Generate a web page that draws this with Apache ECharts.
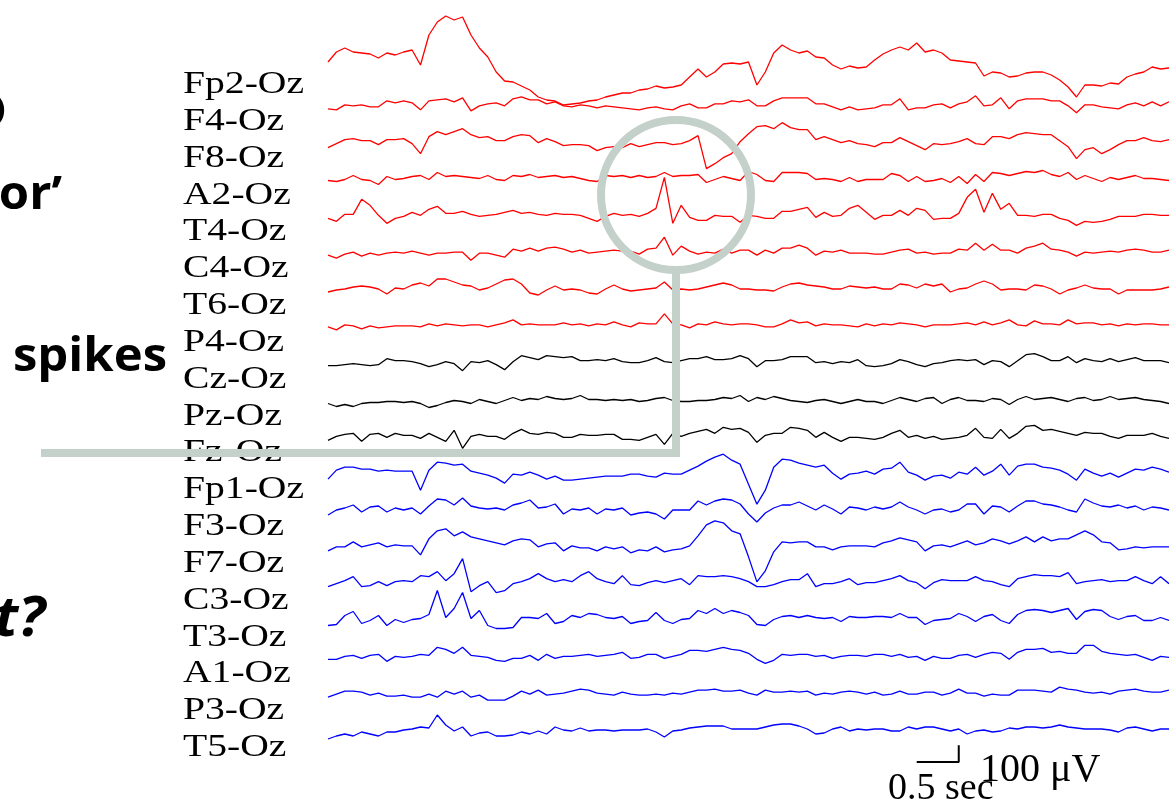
<!DOCTYPE html>
<html><head><meta charset="utf-8">
<script src="https://cdn.jsdelivr.net/npm/echarts@6/dist/echarts.min.js"></script>
<style>html,body{margin:0;padding:0;background:#fff}#c{width:1169px;height:805px}</style>
</head><body><div id="c"></div>
<script>
// ---- channel montage ----
const channels = ['Fp2-Oz','F4-Oz','F8-Oz','A2-Oz','T4-Oz','C4-Oz','T6-Oz','P4-Oz','Cz-Oz','Pz-Oz','Fz-Oz','Fp1-Oz','F3-Oz','F7-Oz','C3-Oz','T3-Oz','A1-Oz','P3-Oz','T5-Oz'];
const channelColors = ['#ff0000','#ff0000','#ff0000','#ff0000','#ff0000','#ff0000','#ff0000','#ff0000','#000000','#000000','#000000','#0000ff','#0000ff','#0000ff','#0000ff','#0000ff','#0000ff','#0000ff','#0000ff'];
// ---- samples every 0.1 s over 10 s, amplitude in µV ----
const fp2 = [48,108,132,108,102,96,72,102,90,108,120,30,210,288,324,300,318,210,132,78,-12,-66,-72,-96,-120,-162,-180,-186,-210,-204,-198,-186,-180,-162,-150,-138,-138,-120,-114,-96,-108,-102,-90,-42,6,-42,-12,36,42,36,48,-90,-12,102,150,120,102,114,78,72,30,6,24,12,18,60,96,120,138,120,162,108,120,102,60,54,48,42,-36,-12,-18,-42,-36,-18,-12,-12,-30,-60,-102,-162,-90,-90,-96,-78,-84,-42,-24,-12,18,6,12];
const f4 = [-12,-18,12,6,12,0,0,36,24,36,24,-18,36,42,48,30,54,-24,6,18,24,6,48,60,42,42,18,30,6,0,12,6,-6,6,0,-6,-12,-18,-6,0,-12,-18,6,18,-6,-6,18,18,36,30,42,6,6,36,54,54,54,54,18,18,0,-18,0,-18,-12,-6,12,12,48,-18,-6,-6,12,18,-6,18,30,66,6,12,54,-12,36,48,48,48,36,36,6,-36,12,12,0,-6,-12,12,24,6,30,6,30];
const f8 = [-24,0,24,30,18,18,-6,24,24,30,0,-60,42,72,54,72,90,54,36,42,18,18,42,54,48,6,30,12,-12,-6,-6,-12,-42,-24,-18,-24,0,-18,-6,6,6,-6,0,18,48,-150,-120,-84,-60,12,60,102,108,90,126,96,84,84,24,42,24,6,18,0,-6,-18,6,6,36,12,-12,-36,0,-6,0,12,30,0,-6,42,42,30,54,66,60,54,54,18,-18,-90,-36,-24,-60,-36,-6,18,18,36,18,12,24];
const a2 = [0,-6,6,30,6,0,-24,24,6,12,24,30,6,48,24,30,24,18,12,30,6,0,30,24,36,18,24,30,18,24,12,0,-6,30,24,30,18,30,18,24,48,24,30,30,36,-12,6,24,12,0,54,36,0,-6,48,48,48,42,6,12,6,-6,18,-6,6,6,6,42,30,-6,24,-6,0,12,-12,24,-18,36,-6,48,42,30,42,54,48,60,36,24,48,6,30,12,-6,18,6,18,30,12,12,6,0];
const t4 = [-6,-24,18,18,108,72,12,-36,-6,6,30,12,48,66,24,24,36,18,6,12,18,30,42,24,30,18,12,24,18,18,12,-6,-24,6,24,12,18,6,24,54,240,-36,72,0,-18,-18,12,6,6,-30,12,6,-6,-6,36,36,48,60,0,30,6,12,54,72,30,-12,12,12,42,12,54,42,-12,-6,-6,24,120,168,30,144,48,84,12,12,6,18,18,-6,-18,-48,-24,-30,-24,-12,6,6,6,18,18,12,12];
const c4 = [-6,-24,0,12,-12,6,-6,6,12,6,18,6,-6,6,6,12,12,-36,6,6,-6,-18,30,18,36,18,36,42,30,12,24,6,12,18,24,18,18,0,30,36,102,-6,48,18,0,12,6,30,6,24,24,-6,24,6,36,36,54,36,-6,18,12,24,6,6,6,0,0,12,24,30,6,12,0,6,6,30,24,66,24,60,24,24,6,36,48,66,30,24,12,-12,12,6,12,18,12,24,30,24,12,12,24];
const t6 = [-6,6,12,24,30,24,12,-18,18,12,36,48,30,72,72,54,36,30,6,18,42,66,72,42,-12,-24,6,30,6,12,6,-12,-18,12,36,12,0,6,12,18,54,6,12,6,12,24,36,48,36,12,12,6,6,0,24,42,48,36,30,24,12,12,30,24,18,24,12,12,42,36,18,42,30,42,-6,12,18,42,60,42,6,12,12,6,36,30,12,-18,6,18,36,18,12,12,-18,6,6,6,6,12,24];
const p4 = [6,-12,18,12,-6,12,0,6,12,12,12,6,24,12,24,18,12,18,18,6,18,30,48,18,24,18,18,18,30,18,24,12,24,18,36,18,6,30,24,24,84,24,18,0,24,18,36,24,18,24,24,18,6,6,24,48,30,36,12,24,18,18,12,6,24,12,24,18,30,24,18,6,18,18,18,24,30,18,36,18,30,48,18,12,42,24,24,18,48,24,30,30,18,24,12,24,18,24,24,18,18];
const cz = [-6,-6,0,6,0,-6,0,36,24,24,18,6,-12,0,18,6,-36,18,12,24,0,-30,18,54,42,30,54,48,42,48,24,24,30,24,36,18,12,12,24,42,18,12,24,36,36,48,30,30,36,54,36,-12,24,24,30,48,48,48,12,18,6,18,12,30,-6,-12,-6,6,30,18,0,-12,6,12,24,30,24,30,0,24,18,-12,24,60,66,48,24,24,48,12,36,24,18,36,18,30,42,24,24,24,12];
const pz = [-12,-30,-18,-30,-12,-6,-6,0,0,-6,0,-12,-36,-24,-6,6,0,-12,12,0,-12,6,24,6,18,12,30,18,12,18,36,12,12,6,12,6,12,0,6,18,24,6,0,0,6,6,12,24,18,36,0,24,12,30,18,6,0,-6,6,12,0,-12,0,12,0,0,-12,6,24,12,0,18,24,-12,12,24,6,6,0,18,12,-18,12,30,12,18,24,12,0,18,24,6,12,30,12,18,24,12,6,0,-12];
const fz = [-12,12,24,30,-18,24,30,6,30,18,18,0,30,6,-18,48,-60,12,24,12,12,-6,30,54,30,24,36,30,6,6,24,18,18,24,24,-6,-6,-12,6,24,-36,30,12,30,42,54,30,66,54,60,36,-24,18,30,30,66,60,48,6,36,6,-18,6,6,0,-6,6,30,48,6,18,0,12,-6,0,6,18,60,6,0,54,0,30,72,78,48,54,42,30,18,36,30,30,12,0,18,18,18,30,12,0];
const fp1 = [-24,30,48,48,36,36,24,30,24,24,24,-90,30,78,72,60,66,24,12,0,-18,-48,6,0,18,0,-24,-6,-30,-30,-24,-18,-12,-6,-6,-6,6,6,-6,-12,12,6,6,30,54,84,108,126,90,66,-54,-174,-90,48,96,90,72,60,48,60,12,-24,6,12,24,6,36,42,78,18,0,-30,-6,0,-18,18,6,48,0,24,66,0,54,66,66,48,42,30,6,-30,36,12,-6,12,-12,12,36,30,48,36,18];
const f3 = [-18,12,24,42,0,30,36,0,24,12,24,-12,36,78,72,42,84,36,24,18,24,12,42,54,72,24,30,48,-12,18,12,24,-12,18,12,24,-18,-6,0,-12,-42,12,12,12,66,42,66,78,72,48,-12,-60,-6,24,42,42,60,36,12,42,18,-12,30,24,12,30,18,30,60,30,12,-12,12,18,0,12,48,48,-12,36,30,0,36,66,66,48,42,30,12,0,78,54,36,30,42,24,36,12,30,24,12];
const f7 = [-12,12,12,42,12,24,36,12,24,18,18,-36,60,108,120,78,102,72,60,48,36,24,48,60,54,12,30,36,-12,18,6,6,-12,12,0,12,-24,-6,-12,12,-18,-6,0,18,78,144,168,156,108,90,-48,-198,-132,-18,42,36,42,42,12,12,-6,12,18,18,18,12,36,48,66,54,42,-12,18,24,12,30,48,24,36,60,48,30,48,72,42,72,48,60,60,84,108,84,42,36,-6,0,12,6,12,12,12];
const c3 = [-6,12,30,54,-6,0,24,0,24,30,24,60,54,84,30,72,162,-36,0,24,-42,-30,12,24,42,72,42,24,36,24,60,84,42,24,12,60,6,0,18,30,18,30,42,6,60,54,54,60,54,42,24,-6,-6,6,24,36,36,72,-6,12,12,24,42,6,18,18,30,42,60,30,18,-18,18,36,30,30,30,54,30,24,6,-6,42,54,66,60,60,54,78,12,24,30,36,24,30,30,54,30,12,54,12];
const t3 = [-18,-12,42,66,-6,12,42,-18,18,0,18,24,48,192,30,84,180,24,72,-18,-36,-36,-30,30,30,24,54,-6,6,42,30,54,48,30,24,36,-6,6,12,60,12,-6,18,24,72,54,84,54,72,60,42,-12,-18,18,36,42,30,42,30,24,30,6,36,30,30,36,36,30,54,30,30,-12,12,18,24,54,36,6,36,48,12,-6,48,72,78,72,60,72,84,18,66,78,72,36,18,36,42,12,12,30,12];
const a1 = [0,0,18,24,6,24,30,-12,18,12,18,30,24,72,60,36,72,24,18,12,-6,-12,6,6,24,-6,30,6,18,18,24,30,18,24,30,42,6,12,30,30,6,18,30,54,54,48,60,72,60,54,36,0,-24,-6,30,24,30,30,18,24,6,18,24,24,18,30,30,18,30,12,18,-6,18,6,6,24,30,12,30,42,36,0,42,60,60,66,42,48,36,36,84,84,48,36,30,24,30,12,-6,18,12];
const p3 = [-6,12,30,30,24,6,18,0,0,6,-6,-6,12,-6,30,12,30,-6,6,-24,-24,-24,0,30,12,36,6,12,18,30,42,36,18,12,6,24,12,6,6,12,6,18,12,24,36,36,42,30,30,36,18,6,36,24,24,30,24,30,6,18,12,24,30,24,12,24,6,12,30,12,12,24,24,6,18,42,18,18,0,12,6,6,36,36,36,30,24,54,42,36,24,18,24,12,30,36,42,30,24,24,36];
const t5 = [-36,-18,-6,-18,6,-6,-18,6,6,18,24,36,30,108,48,12,36,-18,0,6,-18,-18,-12,6,-6,12,-6,36,18,12,30,12,18,18,12,18,18,18,24,6,-24,12,18,30,36,42,42,42,24,24,24,24,36,48,54,54,42,24,-6,0,24,36,12,24,18,24,24,12,12,36,24,36,36,24,12,24,-6,12,18,6,12,30,24,36,36,30,36,48,36,30,24,24,24,18,6,30,36,24,12,24,24];
const traces = [fp2,f4,f8,a2,t4,c4,t6,p4,cz,pz,fz,fp1,f3,f7,c3,t3,a1,p3,t5];

// ---- scale bar ----
const scaleBarSec = 0.5;
const scaleBarUV = 100;
const scaleBarText = ['0.5 sec', '100 μV'];
// ---- side texts of the slide ----
const sideTexts = ['O', 'or’', 'spikes', 't?'];

// ---- layout constants ----
const SAMPLE_SEC = 0.1;
const CHANNEL_SPACING_UV = 221;
const BAR_T0 = 7.0, BAR_Y0 = -4152;

const chart = echarts.init(document.getElementById('c'), null, {renderer:'canvas'});
const series = traces.map((samples, k) => ({
  type:'line', name:channels[k], showSymbol:false, silent:true, animation:false, z:2,
  lineStyle:{color:channelColors[k], width:1.3},
  data: samples.map((v,i)=>[+(i*SAMPLE_SEC).toFixed(2), -k*CHANNEL_SPACING_UV + v])
}));
series.push({
  type:'line', showSymbol:false, silent:true, animation:false, z:3,
  lineStyle:{color:'#000', width:2},
  data:[[BAR_T0, BAR_Y0],[BAR_T0+scaleBarSec, BAR_Y0],[BAR_T0+scaleBarSec, BAR_Y0+scaleBarUV]]
});
chart.setOption({
  animation:false,
  grid:{left:328, right:0, top:0, bottom:0},
  xAxis:{type:'value', min:0, max:10, show:false},
  yAxis:{type:'value', min:-4410, max:420, show:false},
  series
});

const mctx = document.createElement('canvas').getContext('2d');
function widthOf(text, font){ mctx.font = font; return mctx.measureText(text).width; }

const labelFont = '31px "Liberation Serif"';
const labelScale = 121 / widthOf('Fp2-Oz', labelFont);
const graphics = [];
channels.forEach((name, k) => {
  const py = chart.convertToPixel({gridIndex:0}, [0, -k*CHANNEL_SPACING_UV])[1];
  graphics.push({type:'text', x:183, y:py+15, scaleX:labelScale, z:5, silent:true,
    style:{text:name, font:labelFont, fill:'#000', textAlign:'left', textVerticalAlign:'middle', verticalAlign:'middle'}});
});

const sideFont = 'bold 47px "Open Sans"';
const sideScale = 154 / widthOf('spikes', sideFont);
const sidePos = [[7,114],[62,196],[167,358],[45,620]];
sideTexts.forEach((t, j) => {
  const font = j === 3 ? 'italic bold 56px "Open Sans"' : sideFont;
  graphics.push({type:'text', x:sidePos[j][0], y:sidePos[j][1], scaleX:sideScale, z:5, silent:true,
    style:{text:t, font, fill:'#000', textAlign:'right', textVerticalAlign:'middle', verticalAlign:'middle'}});
});

graphics.push({type:'text', x:888, y:789, z:5, silent:true,
  style:{text:scaleBarText[0], font:'38px "Liberation Serif"', fill:'#000', textAlign:'left', textVerticalAlign:'middle', verticalAlign:'middle'}});
graphics.push({type:'text', x:980, y:770, z:5, silent:true,
  style:{text:scaleBarText[1], font:'40px "Liberation Serif"', fill:'#000', textAlign:'left', textVerticalAlign:'middle', verticalAlign:'middle'}});

const annot = '#c4d0ca';
graphics.push({type:'circle', z:10, silent:true, shape:{cx:676, cy:195, r:75},
  style:{fill:'none', stroke:annot, lineWidth:8}});
graphics.push({type:'polyline', z:10, silent:true, shape:{points:[[676,270],[676,453],[41,453]]},
  style:{fill:'none', stroke:annot, lineWidth:8, lineJoin:'miter', lineCap:'butt'}});

chart.setOption({graphic:{elements:graphics}});
</script>
</body></html>
